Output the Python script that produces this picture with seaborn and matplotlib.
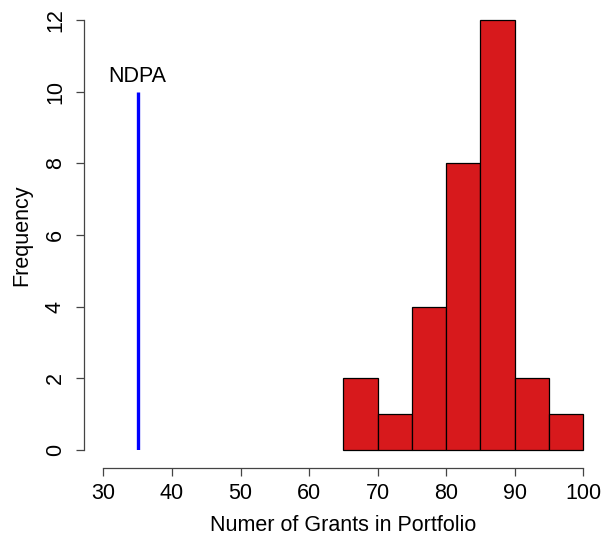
import numpy as np
import pandas as pd
import matplotlib
matplotlib.use('Agg')
import matplotlib.pyplot as plt
import seaborn as sns

# 数据
bin_edges = [65, 70, 75, 80, 85, 90, 95, 100]
counts = [2, 1, 4, 8, 12, 2, 1]
ndpa_value = 35
ndpa_height = 10
x_ticks = [30, 40, 50, 60, 70, 80, 90, 100]
y_ticks = [0, 2, 4, 6, 8, 10, 12]

sns.set_style('white')
plt.rcParams['font.family'] = ['Liberation Sans', 'DejaVu Sans']
plt.rcParams['text.color'] = 'black'
plt.rcParams['axes.labelcolor'] = 'black'
fs = 15.5

fig = plt.figure(figsize=(6.04, 5.39), dpi=100)
W, H = 604, 539
# 坐标区域对应数据范围 30-100, 0-12
ax = fig.add_axes([103.5 / W, 89 / H, (583 - 103.5) / W, (450 - 20) / H])

mids = [(a + b) / 2 for a, b in zip(bin_edges[:-1], bin_edges[1:])]
df = pd.DataFrame({'x': mids, 'w': counts})
sns.histplot(data=df, x='x', weights='w', bins=bin_edges, ax=ax,
             color='#D7191C', alpha=1, edgecolor='black', linewidth=0.9)
for p in ax.patches:
    p.set_clip_on(False)

ax.vlines(ndpa_value, 0, ndpa_height, color='blue', linewidth=2.4)
ax.text(ndpa_value, ndpa_height + 0.12, 'NDPA', ha='center', va='bottom', fontsize=fs)

ax.set_xlim(x_ticks[0], x_ticks[-1])
ax.set_ylim(y_ticks[0], y_ticks[-1])
ax.set_xticks(x_ticks)
ax.set_yticks(y_ticks)

# R风格坐标轴
for s in ['top', 'right']:
    ax.spines[s].set_visible(False)
ax.spines['left'].set_position(('outward', 14))
ax.spines['bottom'].set_position(('outward', 13))
ax.spines['left'].set_bounds(y_ticks[0], y_ticks[-1])
ax.spines['bottom'].set_bounds(x_ticks[0], x_ticks[-1])
for s in ['left', 'bottom']:
    ax.spines[s].set_color('#444444')
    ax.spines[s].set_linewidth(0.9)
ax.tick_params(axis='both', direction='out', length=6, width=0.9, color='#444444',
               labelsize=fs, labelcolor='black', left=True, bottom=True)
ax.tick_params(axis='x', pad=5)
ax.tick_params(axis='y', pad=7, labelrotation=90)
for lab in ax.get_yticklabels():
    lab.set_va('center')

ax.set_xlabel('Numer of Grants in Portfolio', fontsize=fs, labelpad=8)
ax.set_ylabel('Frequency', fontsize=fs, labelpad=9)

fig.savefig('out.png', dpi=100)
